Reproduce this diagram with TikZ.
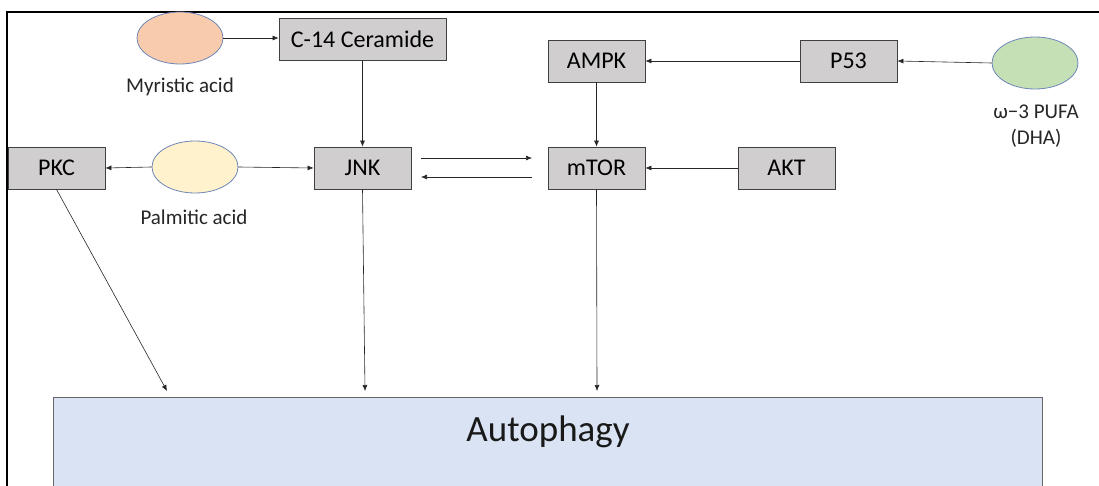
\documentclass[tikz,border=0pt]{standalone}
\usepackage{fontspec}
\setmainfont{Carlito}
\usetikzlibrary{arrows.meta,shapes.geometric}
\definecolor{boxgray}{HTML}{D0CECE}
\definecolor{autoblue}{HTML}{DAE3F3}
\definecolor{peach}{HTML}{F8CBAD}
\definecolor{cream}{HTML}{FFF2CC}
\definecolor{lgreen}{HTML}{C5E0B4}
\definecolor{ellborder}{HTML}{6F86B8}
\tikzset{
  gbox/.style={draw=black!75, fill=boxgray, line width=0.8pt, minimum width=97pt, minimum height=42pt, inner sep=0pt, font=\fontsize{24}{28}\selectfont},
  ell/.style={ellipse, draw=ellborder, line width=0.8pt, minimum width=86pt, minimum height=52pt, inner sep=0pt},
  lab/.style={font=\fontsize{21}{25}\selectfont, text=black!85},
  arr/.style={-{Latex[length=6pt,width=5pt]}, line width=0.6pt, draw=black!85},
}
\begin{document}
\begin{tikzpicture}[x=1pt,y=-1pt]
\useasboundingbox (0,0) rectangle (1099,486);
% frame
\draw[line width=1.6pt] (7,486) -- (7,12) -- (1099,12);
% autophagy
\node[draw=black!60, fill=autoblue, line width=0.8pt, minimum width=989pt, minimum height=100pt, inner sep=0pt, anchor=north west] (auto) at (53,397) {};
\node[font=\fontsize{37}{42}\selectfont, text=black!90] (autotext) at (548,432) {Autophagy};
% boxes
\node[gbox, minimum width=167pt] (cer) at (362.5,39.5) {C-14 Ceramide};
\node[gbox] (pkc) at (56.5,168) {PKC};
\node[gbox] (jnk) at (362.5,168) {JNK};
\node[gbox] (ampk) at (596.5,61) {AMPK};
\node[gbox] (p53) at (848.5,61) {P53};
\node[gbox] (mtor) at (596.5,168) {mTOR};
\node[gbox] (akt) at (786.5,168) {AKT};
% ellipses
\node[ell, fill=peach] (myr) at (180,38) {};
\node[lab] (myrl) at (180,87) {Myristic acid};
\node[ell, fill=cream] (pal) at (195,167) {};
\node[lab] (pall) at (194,217) {Palmitic acid};
\node[ell, fill=lgreen] (dha) at (1035,63) {};
\node[lab, align=center] (dhal) at (1036,126) {ω−3 PUFA\\[1pt](DHA)};
% coordinates
\coordinate (jr1) at (421,158);
\coordinate (mr1) at (532,158);
\coordinate (jr2) at (421,177);
\coordinate (mr2) at (532,177);
\coordinate (a1) at (167,391);
\coordinate (a2) at (365,391);
\coordinate (a3) at (597,391);
% arrows
\draw[arr] (myr.east) -- (cer.west |- myr.east);
\draw[arr] (cer.south) -- (jnk.north);
\draw[arr] (pal.west) -- (pkc.east);
\draw[arr] (pal.east) -- (jnk.west);
\draw[arr] (jr1) -- (mr1);
\draw[arr] (mr2) -- (jr2);
\draw[arr] (p53.west) -- (ampk.east);
\draw[arr] (dha.west) -- (p53.east);
\draw[arr] (ampk.south) -- (mtor.north);
\draw[arr] (akt.west) -- (mtor.east);
\draw[arr] (pkc.south) -- (a1);
\draw[arr] (jnk.south) -- (a2);
\draw[arr] (mtor.south) -- (a3);
\end{tikzpicture}
\end{document}
